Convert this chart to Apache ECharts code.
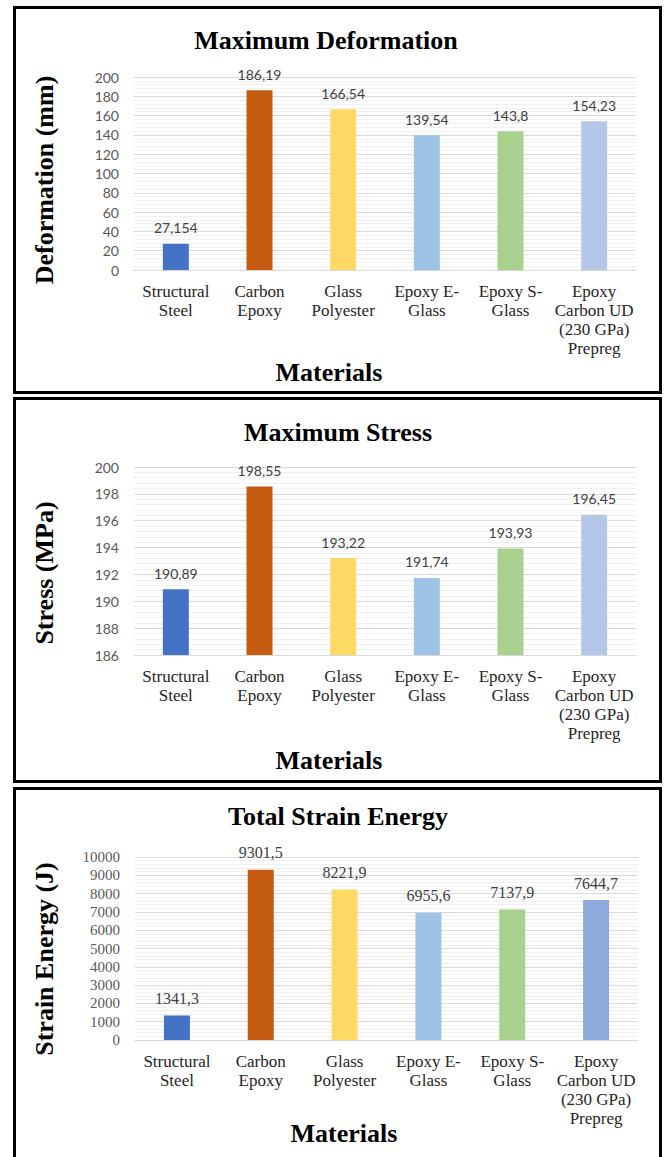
<!DOCTYPE html>
<html>
<head>
<meta charset="utf-8">
<script src="https://cdn.jsdelivr.net/npm/echarts@6/dist/echarts.min.js"></script>
<style>
  html, body { margin: 0; padding: 0; background: #ffffff; }
  #chart { width: 664px; height: 1157px; }
</style>
</head>
<body>
<div id="chart"></div>
<script>
// Materials compared in the three panels (line breaks as printed under each bar)
const materials = [
  'Structural\nSteel',
  'Carbon\nEpoxy',
  'Glass\nPolyester',
  'Epoxy E-\nGlass',
  'Epoxy S-\nGlass',
  'Epoxy\nCarbon UD\n(230 GPa)\nPrepreg'
];

// Maximum deformation, mm
const deformation = [27.154, 186.19, 166.54, 139.54, 143.8, 154.23];
// Maximum stress, MPa
const stress = [190.89, 198.55, 193.22, 191.74, 193.93, 196.45];
// Total strain energy, J
const strainEnergy = [1341.3, 9301.5, 8221.9, 6955.6, 7137.9, 7644.7];

// Bar colours, one per material
const barColors = ['#4472C4', '#C55A11', '#FFD966', '#9DC3E6', '#A9D18E', '#B4C7E7'];
const barColorsEnergy = ['#4472C4', '#C55A11', '#FFD966', '#9DC3E6', '#A9D18E', '#8FAADC'];

// Panel headings and axis titles
const panelTitles = ['Maximum Deformation', 'Maximum Stress', 'Total Strain Energy'];
const yTitles = ['Deformation (mm)', 'Stress (MPa)', 'Strain Energy (J)'];
const xTitle = 'Materials';

const SERIF = '"Liberation Serif", "Times New Roman", serif';
const SANS = 'Lato, "Liberation Sans", sans-serif';

const chart = echarts.init(document.getElementById('chart'), null, { renderer: 'svg' });

// Panel geometry (page pixels)
const panels = [
  { box: [14.5, 7.5, 646, 385], grid: { top: 77, bottom: 270, left: 134, right: 636 },
    titleXY: [326, 40], yTitleXY: [44, 180], xTitleXY: [329, 372],
    axis: { min: 0, max: 200, interval: 20 }, tickFont: SANS, tickSize: 14, labelFont: SANS, labelSize: 14 },
  { box: [14.5, 398.5, 646, 383], grid: { top: 467, bottom: 655, left: 134, right: 636 },
    titleXY: [338, 432], yTitleXY: [44, 573], xTitleXY: [329, 760],
    axis: { min: 186, max: 200, interval: 2 }, tickFont: SANS, tickSize: 14, labelFont: SANS, labelSize: 14 },
  { box: [14.5, 788.5, 646, 380], grid: { top: 857, bottom: 1040, left: 135, right: 638 },
    titleXY: [338, 816], yTitleXY: [44, 959], xTitleXY: [344, 1133],
    axis: { min: 0, max: 10000, interval: 1000 }, tickFont: SERIF, tickSize: 15, labelFont: SERIF, labelSize: 16 }
];

const seriesData = [deformation, stress, strainEnergy];
const seriesColors = [barColors, barColors, barColorsEnergy];

const grids = [], xAxes = [], yAxes = [], series = [], graphics = [];

panels.forEach((p, i) => {
  grids.push({
    left: p.grid.left, width: p.grid.right - p.grid.left,
    top: p.grid.top, height: p.grid.bottom - p.grid.top,
    containLabel: false
  });
  xAxes.push({
    type: 'category', gridIndex: i, data: materials,
    axisLine: { lineStyle: { color: '#D9D9D9', width: 1 } },
    axisTick: { show: false },
    axisLabel: {
      interval: 0, margin: 12, color: '#262626',
      fontFamily: SERIF, fontSize: 17, lineHeight: 19
    }
  });
  yAxes.push({
    type: 'value', gridIndex: i,
    min: p.axis.min, max: p.axis.max, interval: p.axis.interval,
    axisLine: { show: false }, axisTick: { show: false },
    axisLabel: {
      margin: 15, color: '#595959', fontFamily: p.tickFont, fontSize: p.tickSize,
      formatter: (v) => String(v)
    },
    splitLine: { lineStyle: { color: '#D9D9D9', width: 1 } },
    minorTick: { show: false, splitNumber: 5 },
    minorSplitLine: { show: true, lineStyle: { color: '#F0F0F0', width: 1 } }
  });
  series.push({
    type: 'bar', xAxisIndex: i, yAxisIndex: i,
    barWidth: 26,
    data: seriesData[i].map((v, k) => ({ value: v, itemStyle: { color: seriesColors[i][k] } })),
    label: {
      show: true, position: 'top', distance: 9,
      color: '#404040', fontFamily: p.labelFont, fontSize: p.labelSize,
      formatter: (d) => String(d.value).replace('.', ',')
    }
  });

  // Panel frame
  graphics.push({
    type: 'rect',
    shape: { x: p.box[0], y: p.box[1], width: p.box[2], height: p.box[3] },
    style: { fill: 'none', stroke: '#000000', lineWidth: 3 },
    z: 100
  });
  // Panel heading
  graphics.push({
    type: 'text', x: p.titleXY[0], y: p.titleXY[1],
    style: { text: panelTitles[i], align: 'center', verticalAlign: 'middle',
             font: 'bold 26px ' + SERIF, fill: '#000000' }
  });
  // Vertical axis title
  graphics.push({
    type: 'text', x: p.yTitleXY[0], y: p.yTitleXY[1], rotation: Math.PI / 2,
    style: { text: yTitles[i], align: 'center', verticalAlign: 'middle',
             font: 'bold 26px ' + SERIF, fill: '#000000' }
  });
  // Horizontal axis title
  graphics.push({
    type: 'text', x: p.xTitleXY[0], y: p.xTitleXY[1],
    style: { text: xTitle, align: 'center', verticalAlign: 'middle',
             font: 'bold 26px ' + SERIF, fill: '#000000' }
  });
});

chart.setOption({
  animation: false,
  backgroundColor: '#ffffff',
  grid: grids,
  xAxis: xAxes,
  yAxis: yAxes,
  series: series,
  graphic: graphics
});
</script>
</body>
</html>
